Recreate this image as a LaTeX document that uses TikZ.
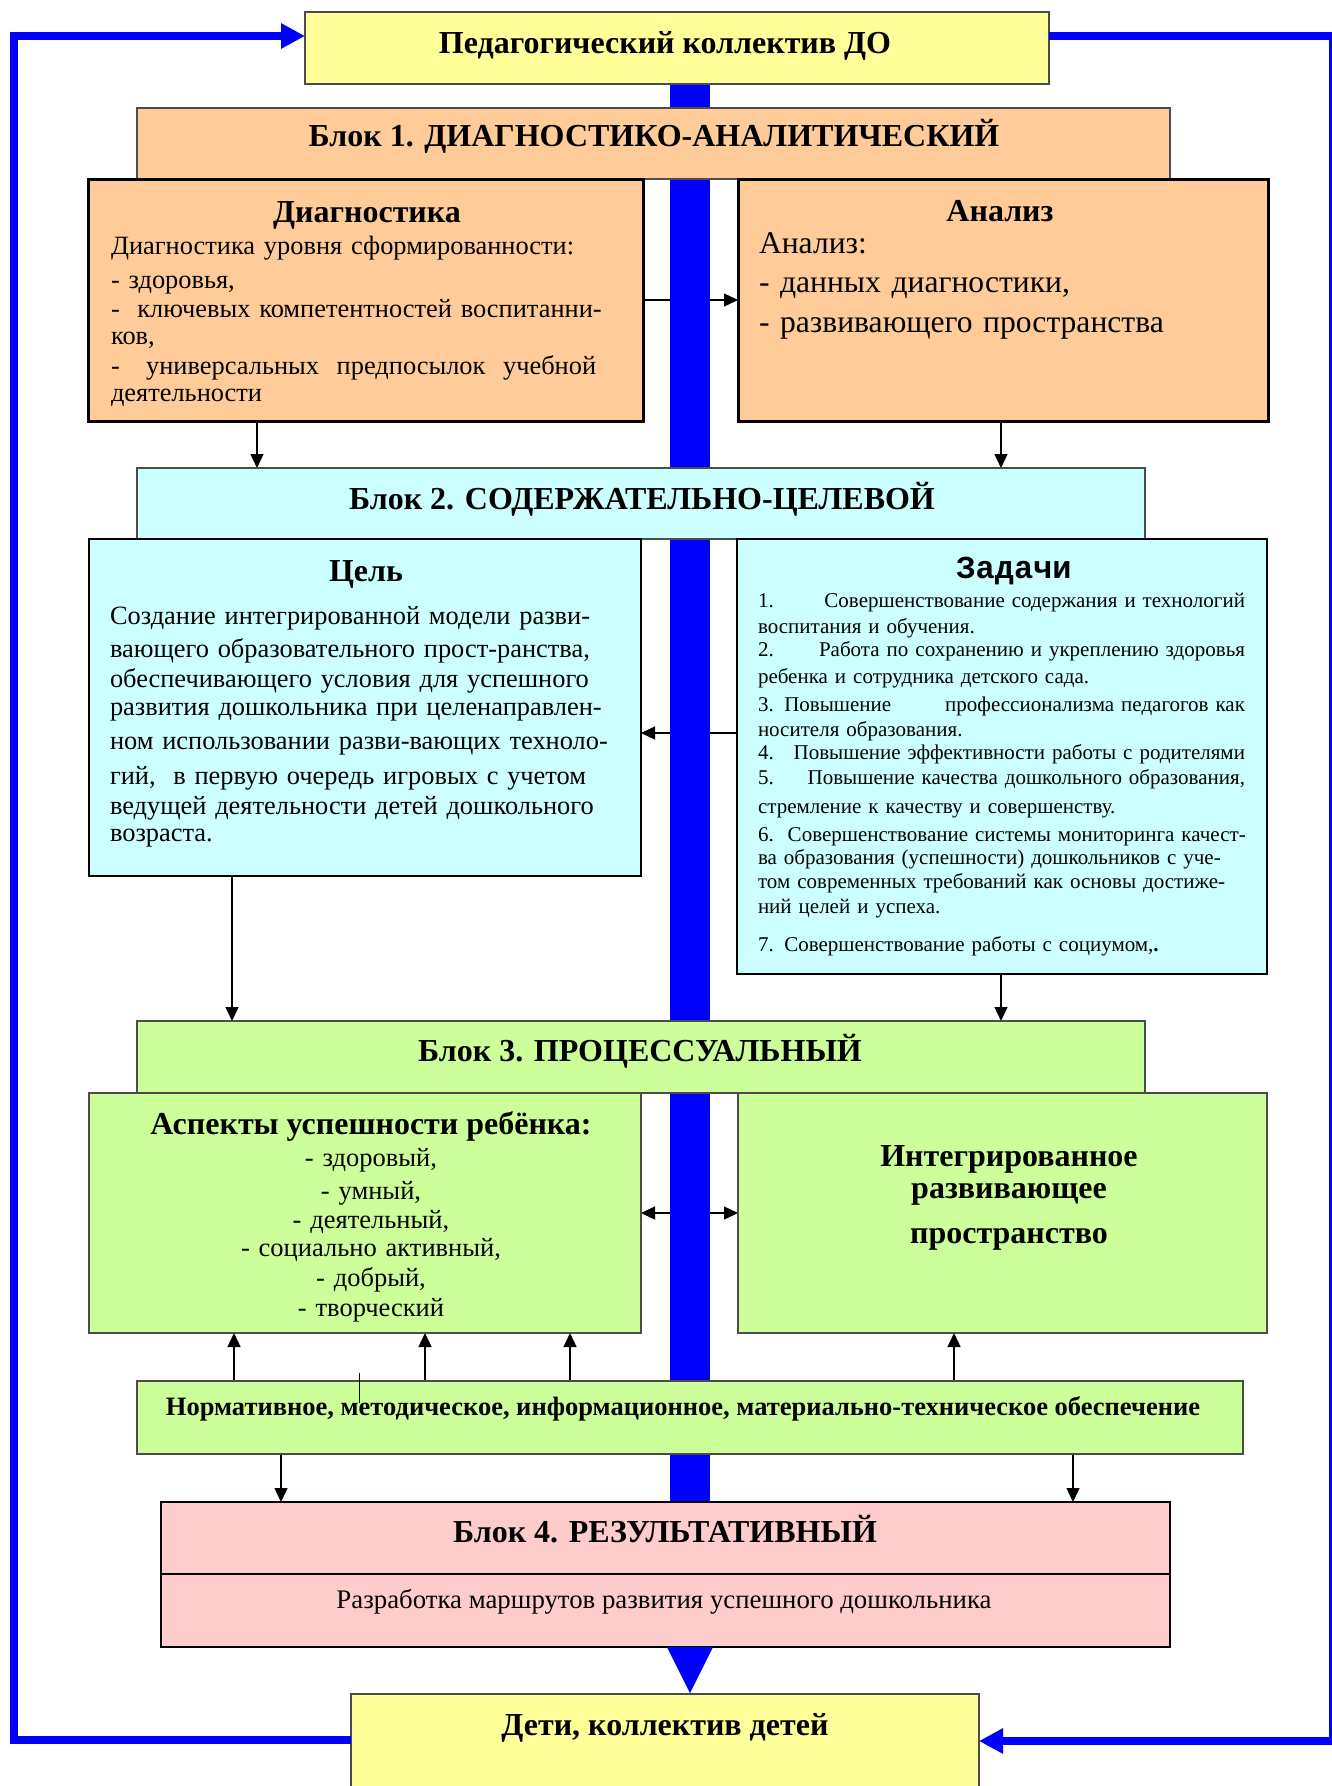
\documentclass[tikz,border=0pt]{standalone}
\usepackage{fontspec}
\setmainfont{Liberation Serif}
\newfontfamily\courfont{Liberation Mono}
\usetikzlibrary{arrows.meta}
\pgfdeclarelayer{bg}
\pgfdeclarelayer{mid}
\pgfsetlayers{bg,mid,main}
\definecolor{cyel}{HTML}{FFFF99}
\definecolor{cpeach}{HTML}{FFCC99}
\definecolor{ccyan}{HTML}{CCFFFF}
\definecolor{cgreen}{HTML}{CCFF99}
\definecolor{cpink}{HTML}{FFCCCC}
\definecolor{cblue}{RGB}{0,0,255}
\tikzset{
  box/.style={rectangle, inner sep=0pt, outer sep=0pt},
  hdr/.style={box, draw=black!70, line width=1.3pt},
  heavybox/.style={box, draw=black, line width=3pt, fill=cpeach},
  txt/.style={inner sep=0pt, outer sep=0pt},
  bigbold/.style={txt, font=\bfseries\fontsize{32}{38}\selectfont},
  arr/.style={line width=1.3pt, -{Triangle[length=14pt,width=13pt]}},
  darr/.style={line width=1.3pt, {Triangle[length=14pt,width=13pt]}-{Triangle[length=14pt,width=13pt]}},
  blueloop/.style={draw=cblue, line width=8pt, line join=miter, -{Triangle[length=24pt,width=24pt]}},
}
\begin{document}
\begin{tikzpicture}[x=1pt,y=-1pt]
\useasboundingbox (0,0) rectangle (1332,1786);
\begin{pgfonlayer}{bg}
\fill[white] (0,0) rectangle (1332,1786);
\end{pgfonlayer}

% ---------- boxes ----------
\node[hdr, fill=cyel, minimum width=744pt, minimum height=72pt] (top) at (677,48) {};
\node[hdr, fill=cpeach, minimum width=1033pt, minimum height=71pt] (b1) at (653.5,143.5) {};
\node[heavybox, minimum width=555pt, minimum height=242pt] (diag) at (365.5,300) {};
\node[heavybox, minimum width=530pt, minimum height=242pt] (anal) at (1003,300) {};
\node[hdr, fill=ccyan, minimum width=1008pt, minimum height=71pt] (b2) at (641,503.5) {};
\node[hdr, draw=black, fill=ccyan, minimum width=552pt, minimum height=337pt] (cel) at (365,707.5) {};
\node[hdr, draw=black, fill=ccyan, minimum width=530pt, minimum height=435pt] (zad) at (1002,756.5) {};
\node[hdr, fill=cgreen, minimum width=1008pt, minimum height=72pt] (b3) at (641,1057) {};
\node[hdr, fill=cgreen, minimum width=552pt, minimum height=240pt] (asp) at (365,1213) {};
\node[hdr, fill=cgreen, minimum width=529pt, minimum height=240pt] (integ) at (1002.5,1213) {};
\node[hdr, fill=cgreen, minimum width=1106pt, minimum height=73pt] (ob) at (690,1417.5) {};
\node[hdr, draw=black, fill=cpink, minimum width=1009pt, minimum height=72pt] (b4) at (665.5,1538) {};
\node[hdr, draw=black, fill=cpink, minimum width=1009pt, minimum height=73pt] (b4s) at (665.5,1610.5) {};
\node[hdr, fill=cyel, minimum width=628pt, minimum height=96pt] (deti) at (665,1742) {};

% ---------- texts ----------
\node[bigbold, anchor=base] (ttop) at (665,53) {Педагогический коллектив ДО};
\node[bigbold, anchor=base] (tb1) at (654,146) {Блок 1. ДИАГНОСТИКО-АНАЛИТИЧЕСКИЙ};
\node[bigbold, anchor=base] (tdiagh) at (367,222) {Диагностика};
\node[txt, anchor=base west, text width=520pt, align=left, font=\fontsize{26.4}{29}\selectfont] (tdiag) at (111,254)
 {Диагностика уровня сформированности:\\[5pt]
  - здоровья,\\
  -\ \ ключевых компетентностей воспитанни-\\[-2pt]
  ков,\\[1pt]
  -\ \ \ универсальных\ \ предпосылок\ \ учебной\\[-2pt]
  деятельности};
\node[bigbold, anchor=base] (tanalh) at (1000,221) {Анализ};
\node[txt, anchor=base west, text width=500pt, align=left, font=\fontsize{31.6}{39}\selectfont] (tanal) at (759,253)
 {Анализ:\\- данных диагностики,\\[1pt]- развивающего пространства};

\node[bigbold, anchor=base] (tb2) at (642,509) {Блок 2. СОДЕРЖАТЕЛЬНО-ЦЕЛЕВОЙ};
\node[bigbold, anchor=base] (tcelh) at (366,581) {Цель};
\node[txt, anchor=base west, text width=525pt, align=left, font=\fontsize{26.4}{31}\selectfont] (tcel) at (110,624)
 {Создание интегрированной модели разви-\\[2pt]
  вающего образовательного прост-ранства,\\[-1pt]
  обеспечивающего условия для успешного\\[-3pt]
  развития дошкольника при целенаправлен-\\[3pt]
  ном использовании разви-вающих техноло-\\[4pt]
  гий,\ \ в первую очередь игровых с учетом\\[-1pt]
  ведущей деятельности детей дошкольного\\[-4pt]
  возраста.};
\node[txt, anchor=base, font=\courfont\bfseries\fontsize{32}{38}\selectfont] (tzadh) at (1014,578) {Задачи};
\node[txt, anchor=base west, text width=487pt, align=left, font=\fontsize{21}{25}\selectfont] (tzad) at (758,607)
 {\makebox[\linewidth]{1.\hfill Совершенствование содержания и технологий}\\[1pt]
  воспитания и обучения.\\[-2pt]
  \makebox[\linewidth]{2.\hfill Работа по сохранению и укреплению здоровья}\\[2pt]
  ребенка и сотрудника детского сада.\\[3pt]
  \makebox[\linewidth]{3. Повышение\hfill профессионализма педагогов как}\\[0pt]
  носителя образования.\\[-2pt]
  \makebox[\linewidth]{4.\hfill Повышение эффективности работы с родителями}\\[0pt]
  \makebox[\linewidth]{5.\hfill Повышение качества дошкольного образования,}\\[4pt]
  стремление к качеству и совершенству.\\[3pt]
  \makebox[\linewidth][s]{6.\ \ Совершенствование системы мониторинга качест-}\\[-2pt]
  ва образования (успешности) дошкольников с уче-\\[-1pt]
  том современных требований как основы достиже-\\[0pt]
  ний целей и успеха.\\[13pt]
  7. Совершенствование работы с социумом,{\bfseries .}};

\node[bigbold, anchor=base] (tb3) at (640,1061) {Блок 3. ПРОЦЕССУАЛЬНЫЙ};
\node[bigbold, anchor=base] (tasph) at (371,1134) {Аспекты успешности ребёнка:};
\node[txt, anchor=base, text width=500pt, align=center, font=\fontsize{26.5}{30}\selectfont] (tasp) at (371,1166)
 {- здоровый,\\[3pt]- умный,\\[-1pt]- деятельный,\\[-2pt]- социально активный,\\- добрый,\\- творческий};
\node[txt, anchor=base, text width=500pt, align=center, font=\bfseries\fontsize{32}{32}\selectfont] (tinteg) at (1009,1166)
 {Интегрированное\\развивающее\\[13pt]пространство};
\node[txt, anchor=base, font=\bfseries\fontsize{26.5}{30}\selectfont] (tob) at (683,1415)
 {Нормативное, методическое, информационное, материально-техническое обеспечение};
\node[bigbold, anchor=base] (tb4) at (665,1542) {Блок 4. РЕЗУЛЬТАТИВНЫЙ};
\node[txt, anchor=base, font=\fontsize{26.8}{30}\selectfont] (tb4s) at (664,1608) {Разработка маршрутов развития успешного дошкольника};
\node[bigbold, anchor=base] (tdeti) at (665,1735) {Дети, коллектив детей};

% ---------- coordinates ----------
\coordinate (xd) at (257,0);
\coordinate (xa) at (1001,0);
\coordinate (xc) at (232,0);
\coordinate (xo1) at (234,0);
\coordinate (xo2) at (425,0);
\coordinate (xo3) at (570,0);
\coordinate (xo4) at (954,0);
\coordinate (xp1) at (281,0);
\coordinate (xp2) at (1073,0);
\coordinate (yz) at (0,733);
\coordinate (lt) at (14,36);
\coordinate (lb) at (14,1740);
\coordinate (rt) at (1333,36);
\coordinate (rb) at (1333,1741);
\coordinate (bartop) at (670,84);
\coordinate (barbot) at (710,1502);
\coordinate (tri1) at (667,1647);
\coordinate (tri2) at (713,1647);
\coordinate (tri3) at (690,1693);
\coordinate (s1) at (359,1373);
\coordinate (s2) at (359,1403);

% ---------- connectors (behind the bar) ----------
\begin{pgfonlayer}{bg}
\draw[arr] (diag.east) -- (anal.west);
\draw[arr] (diag.south -| xd) -- (b2.north -| xd);
\draw[arr] (anal.south -| xa) -- (b2.north -| xa);
\draw[arr] (zad.west |- yz) -- (cel.east |- yz);
\draw[arr] (cel.south -| xc) -- (b3.north -| xc);
\draw[arr] (zad.south -| xa) -- (b3.north -| xa);
\draw[darr] (asp.east) -- (integ.west);
\foreach \c in {xo1,xo2,xo3} \draw[arr] (ob.north -| \c) -- (asp.south -| \c);
\draw[arr] (ob.north -| xo4) -- (integ.south -| xo4);
\draw[arr] (ob.south -| xp1) -- (b4.north -| xp1);
\draw[arr] (ob.south -| xp2) -- (b4.north -| xp2);
\end{pgfonlayer}

% ---------- central blue bar ----------
\begin{pgfonlayer}{mid}
\fill[cblue] (bartop) rectangle (barbot);
\end{pgfonlayer}
\fill[cblue] (tri1) -- (tri2) -- (tri3) -- cycle;

% ---------- blue feedback loops ----------
\draw[blueloop] (deti.west |- lb) -- (lb) -- (lt) -- (top.west |- lt);
\draw[blueloop] (top.east |- rt) -- (rt) -- (rb) -- (deti.east |- rb);

% stray mark
\draw[line width=1pt] (s1) -- (s2);
\end{tikzpicture}
\end{document}
